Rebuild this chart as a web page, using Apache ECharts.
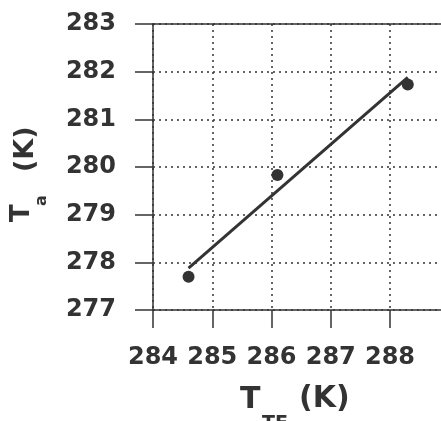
<!DOCTYPE html>
<html>
<head>
<meta charset="utf-8">
<script src="https://cdn.jsdelivr.net/npm/echarts@6/dist/echarts.min.js"></script>
<style>html,body{margin:0;padding:0;background:#fff}#c{width:441px;height:421px}</style>
</head>
<body>
<div id="c"></div>
<script>
// Data
var pointsX = [284.6, 286.1, 288.3];
var pointsY = [277.7, 279.83, 281.73];
var fitX = [284.6, 288.3];
var fitY = [277.88, 281.88];
var xTicks = [284, 285, 286, 287, 288];
var yTicks = [277, 278, 279, 280, 281, 282, 283];

var ink = '#333';
var font = 'DejaVu Sans';
var chart = echarts.init(document.getElementById('c'));
chart.setOption({
  animation: false,
  backgroundColor: '#fff',
  grid: { left: 153, top: 24, width: 296.25, height: 286, containLabel: false, outerBoundsMode: 'none' },
  xAxis: [{
    type: 'value', min: 284, max: 289, interval: 1,
    axisLine: { show: true, onZero: false, lineStyle: { color: ink, width: 1.5 } },
    axisTick: { show: true, length: 18, lineStyle: { color: ink, width: 1.5 } },
    axisLabel: { show: true, margin: 36, color: ink, fontFamily: font, fontWeight: 'bold', fontSize: 24, showMaxLabel: false,
      formatter: function (v) { return xTicks.indexOf(v) >= 0 ? String(v) : ''; } },
    splitLine: { show: true, lineStyle: { color: ink, width: 1.5, type: [2, 4] } }
  }, {
    type: 'value', position: 'top', min: 284, max: 289,
    axisLine: { show: true, onZero: false, lineStyle: { color: ink, width: 1.5 } },
    axisTick: { show: false }, axisLabel: { show: false }, splitLine: { show: false }
  }],
  yAxis: {
    type: 'value', min: 277, max: 283, interval: 1,
    axisLine: { show: true, onZero: false, lineStyle: { color: ink, width: 1.5 } },
    axisTick: { show: true, length: 18, lineStyle: { color: ink, width: 1.5 } },
    axisLabel: { show: true, margin: 37, color: ink, fontFamily: font, fontWeight: 'bold', fontSize: 24,
      formatter: function (v) { return yTicks.indexOf(v) >= 0 ? String(v) : ''; } },
    splitLine: { show: true, lineStyle: { color: ink, width: 1.5, type: [2, 4] } }
  },
  series: [{
    type: 'line',
    data: fitX.map(function (x, i) { return [x, fitY[i]]; }),
    showSymbol: false, symbol: 'none',
    lineStyle: { color: ink, width: 3 }
  }, {
    type: 'scatter',
    data: pointsX.map(function (x, i) { return [x, pointsY[i]]; }),
    symbol: 'circle', symbolSize: 12,
    itemStyle: { color: ink, opacity: 1 }
  }],
  graphic: [{
    type: 'group', x: 22, y: 222, rotation: Math.PI / 2,
    children: [
      { type: 'text', x: 0, y: 0, style: { text: 'T', fill: ink, font: 'bold 26px "DejaVu Sans"', textAlign: 'left', textVerticalAlign: 'middle' } },
      { type: 'text', x: 16, y: 20, style: { text: 'a', fill: ink, font: 'bold 16px "DejaVu Sans"', textAlign: 'left', textVerticalAlign: 'middle' } },
      { type: 'text', x: 50, y: 4, style: { text: '(K)', fill: ink, font: 'bold 27px "DejaVu Sans"', textAlign: 'left', textVerticalAlign: 'middle' } }
    ]
  }, {
    type: 'text', x: 240, y: 400, style: { text: 'T', fill: ink, font: 'bold 30px "DejaVu Sans"', textAlign: 'left', textVerticalAlign: 'middle' }
  }, {
    type: 'text', x: 262, y: 424, style: { text: 'TF', fill: ink, font: 'bold 19px "DejaVu Sans"', textAlign: 'left', textVerticalAlign: 'middle' }
  }, {
    type: 'text', x: 299, y: 399, style: { text: '(K)', fill: ink, font: 'bold 30px "DejaVu Sans"', textAlign: 'left', textVerticalAlign: 'middle' }
  }]
});
</script>
</body>
</html>
